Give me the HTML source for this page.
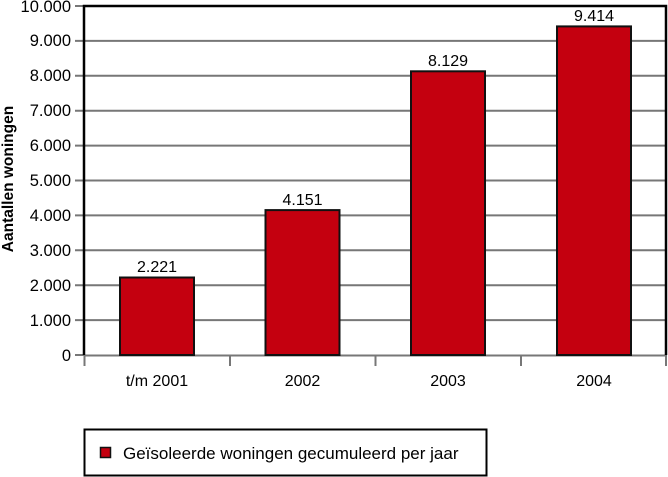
<!DOCTYPE html>
<html><head><meta charset="utf-8"><style>body{margin:0;background:#fff}svg{display:block}</style></head><body>
<svg width="668" height="477" xmlns="http://www.w3.org/2000/svg" font-family="Liberation Sans, sans-serif">
<rect width="668" height="477" fill="#fff"/>
<g stroke="#777" stroke-width="2">
<line x1="75" y1="320.1" x2="666" y2="320.1"/>
<line x1="75" y1="285.2" x2="666" y2="285.2"/>
<line x1="75" y1="250.3" x2="666" y2="250.3"/>
<line x1="75" y1="215.4" x2="666" y2="215.4"/>
<line x1="75" y1="180.5" x2="666" y2="180.5"/>
<line x1="75" y1="145.6" x2="666" y2="145.6"/>
<line x1="75" y1="110.7" x2="666" y2="110.7"/>
<line x1="75" y1="75.8" x2="666" y2="75.8"/>
<line x1="75" y1="40.9" x2="666" y2="40.9"/>
<line x1="75" y1="355" x2="84" y2="355"/>
<line x1="75" y1="6" x2="84" y2="6"/>
<line x1="84" y1="355.5" x2="666" y2="355.5"/>
<line x1="84.5" y1="355" x2="84.5" y2="366"/>
<line x1="230" y1="355" x2="230" y2="366"/>
<line x1="375.5" y1="355" x2="375.5" y2="366"/>
<line x1="521" y1="355" x2="521" y2="366"/>
<line x1="666" y1="355" x2="666" y2="366"/>
</g>
<g fill="#c4000f" stroke="#111" stroke-width="2">
<rect x="120" y="277.5" width="74" height="77.5"/>
<rect x="265.5" y="210.1" width="74" height="144.9"/>
<rect x="411" y="71.3" width="74" height="283.7"/>
<rect x="557" y="26.4" width="74" height="328.6"/>
</g>
<polyline points="84,355 84,6 666,6 666,355" fill="none" stroke="#000" stroke-width="2.5"/>
<g font-size="16.5" text-anchor="end" fill="#000">
<text x="71" y="361">0</text><text x="71" y="326">1.000</text><text x="71" y="291">2.000</text><text x="71" y="256">3.000</text><text x="71" y="221">4.000</text><text x="71" y="186">5.000</text><text x="71" y="151">6.000</text><text x="71" y="116">7.000</text><text x="71" y="81">8.000</text><text x="71" y="46">9.000</text><text x="71" y="12">10.000</text>
</g>
<g font-size="16" text-anchor="middle">
<text x="157" y="272">2.221</text><text x="302.5" y="205">4.151</text><text x="448" y="66">8.129</text><text x="594" y="21">9.414</text>
<text x="157" y="386">t/m 2001</text><text x="302.5" y="386">2002</text><text x="448" y="386">2003</text><text x="594" y="386">2004</text>
</g>
<text transform="translate(13,179) rotate(-90)" font-size="15.5" font-weight="bold" text-anchor="middle">Aantallen woningen</text>
<rect x="84.5" y="429.5" width="402" height="46" fill="#fff" stroke="#000" stroke-width="2"/>
<rect x="100.5" y="447.5" width="10" height="10" fill="#c4000f" stroke="#111" stroke-width="1.5"/>
<text x="123" y="459" font-size="17">Geïsoleerde woningen gecumuleerd per jaar</text>
</svg>
</body></html>
